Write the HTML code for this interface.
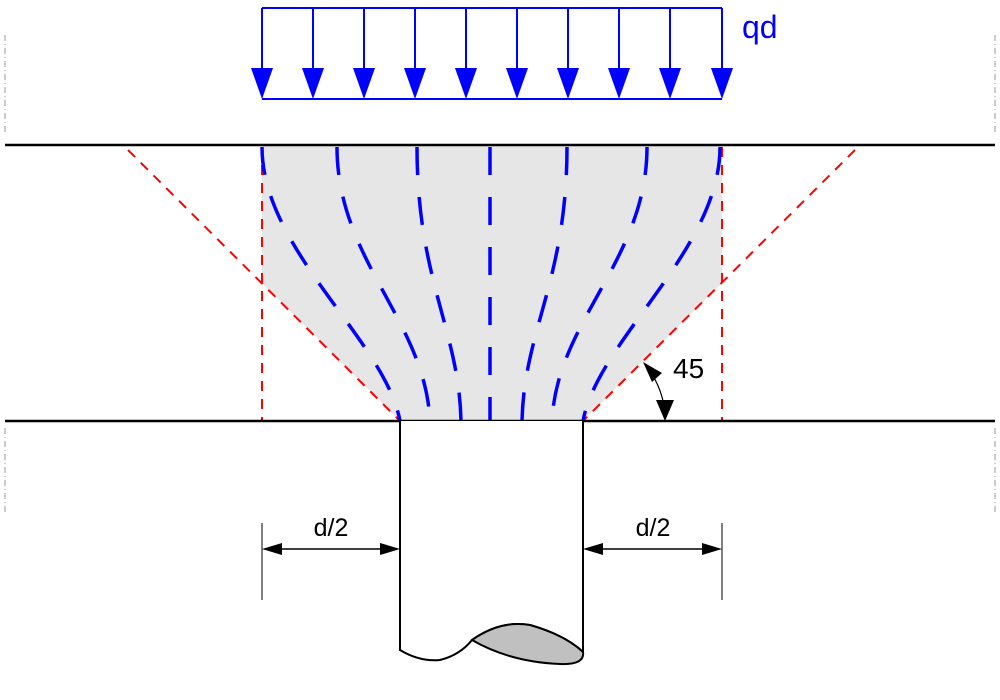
<!DOCTYPE html>
<html><head><meta charset="utf-8"><style>html,body{margin:0;padding:0;background:#fff}svg{display:block}</style></head><body>
<svg width="1000" height="700" viewBox="0 0 1000 700" xmlns="http://www.w3.org/2000/svg">
<g stroke="#999" stroke-width="1" stroke-dasharray="6,3,1,3">
<line x1="5" y1="35" x2="5" y2="135"/><line x1="5" y1="428" x2="5" y2="515"/>
<line x1="995" y1="35" x2="995" y2="135"/><line x1="995" y1="428" x2="995" y2="515"/>
</g>
<polygon points="262,145 722,145 722,283 583,421 400,421 262,283" fill="#e6e6e6"/>
<g stroke="#ff0000" stroke-width="2" stroke-dasharray="10,8" fill="none">
<line x1="128" y1="150" x2="400" y2="421"/>
<line x1="855" y1="150" x2="583" y2="421"/>
<line x1="262" y1="147" x2="262" y2="421"/>
<line x1="722" y1="147" x2="722" y2="421"/>
</g>
<g stroke="#0000ff" stroke-width="3.5" stroke-dasharray="28,22" fill="none">
<path d="M262,147 C262,250 385,340 400,421"/>
<path d="M337,147 C337,260 425,320 430,421"/>
<path d="M417,147 C417,280 459,330 461,421"/>
<path d="M490,147 L490,421"/>
<path d="M567,147 C567,280 524,330 522,421"/>
<path d="M647,147 C647,260 557,320 552,421"/>
<path d="M720,147 C720,250 598,340 583,421"/>
</g>
<line x1="5" y1="145" x2="995" y2="145" stroke="#000" stroke-width="2.5"/>
<line x1="5" y1="421" x2="995" y2="421" stroke="#000" stroke-width="2.5"/>
<path d="M400,421 L400,650 Q420,662 440,660 Q460,655 472,640 Q500,620 530,625 Q565,635 583,652 L583,421" fill="#fff" stroke="#000" stroke-width="2"/>
<path d="M472,640 Q500,620 530,625 Q565,635 583,652 Q585,665 560,664 Q510,662 472,640 z" fill="#c0c0c0" stroke="#000" stroke-width="2"/>
<g stroke="#0000ff" stroke-width="2" fill="none">
<line x1="262" y1="8" x2="722" y2="8"/>
<line x1="262" y1="99" x2="722" y2="99"/>
</g>
<g fill="#0000ff" stroke="#0000ff" stroke-width="2">
<g id="ar"><line x1="262" y1="8" x2="262" y2="75"/><polygon points="251,68 273,68 262,99" stroke="none"/></g>
<use href="#ar" x="51"/><use href="#ar" x="102"/><use href="#ar" x="153"/><use href="#ar" x="204"/>
<use href="#ar" x="255"/><use href="#ar" x="306"/><use href="#ar" x="357"/><use href="#ar" x="408"/><use href="#ar" x="460"/>
</g>
<text x="742" y="38" font-family="Liberation Sans, sans-serif" font-size="32" fill="#0000ff">qd</text>
<path d="M645,364 Q665,390 665,419" fill="none" stroke="#000" stroke-width="1.2"/>
<polygon points="643,362 662,373 652,382" fill="#000"/>
<polygon points="656,400 674,400 665,421" fill="#000"/>
<text x="673" y="378" font-family="Liberation Sans, sans-serif" font-size="28" fill="#000">45</text>
<g stroke="#000" stroke-width="1">
<line x1="262" y1="523" x2="262" y2="600"/>
<line x1="722" y1="523" x2="722" y2="600"/>
</g>
<g stroke="#000" stroke-width="1.5">
<line x1="265" y1="549" x2="397" y2="549"/>
<line x1="586" y1="549" x2="719" y2="549"/>
</g>
<g fill="#000">
<polygon points="262,549 282,543 282,555"/><polygon points="400,549 380,543 380,555"/>
<polygon points="583,549 603,543 603,555"/><polygon points="722,549 702,543 702,555"/>
</g>
<text x="331" y="536" text-anchor="middle" font-family="Liberation Sans, sans-serif" font-size="25">d/2</text>
<text x="653" y="536" text-anchor="middle" font-family="Liberation Sans, sans-serif" font-size="25">d/2</text>
</svg>
</body></html>
